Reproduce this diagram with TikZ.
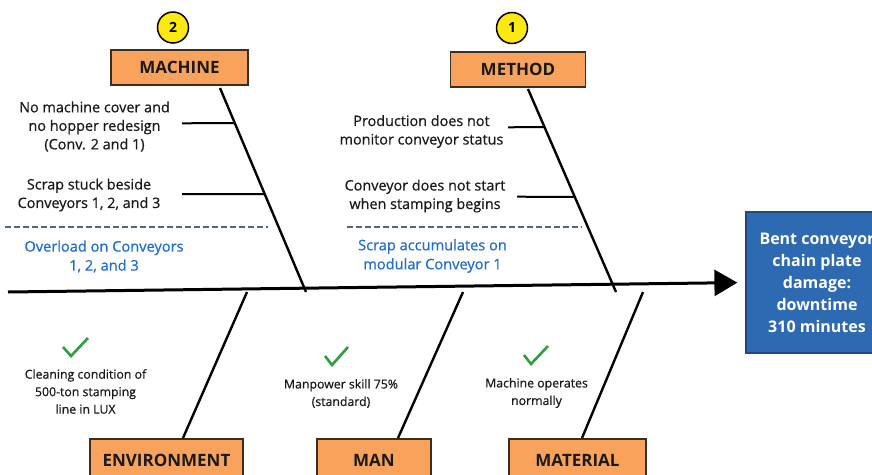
\documentclass[tikz,border=0pt]{standalone}
\usepackage{fontspec}
\setmainfont{Open Sans}
\newfontface\medface{Open Sans}[FakeBold=0.6]
\usetikzlibrary{calc,arrows.meta}
\definecolor{catfill}{HTML}{F9A25C}
\definecolor{catborder}{HTML}{3A2E24}
\definecolor{effectfill}{HTML}{2E6AB1}
\definecolor{effectborder}{HTML}{1E4A80}
\definecolor{causeblue}{HTML}{1F6DD0}
\definecolor{checkgreen}{HTML}{2E9E3E}
\definecolor{badgeyellow}{HTML}{FDE910}
\definecolor{dashgray}{HTML}{56657F}
\definecolor{inktext}{HTML}{1A1A1A}
\tikzset{
  catbox/.style={draw=catborder, fill=catfill, line width=1.5pt, inner sep=0pt,
    font=\bfseries\fontsize{17}{20}\selectfont, text=inktext},
  badge/.style={circle, draw=black, fill=badgeyellow, line width=1.5pt, minimum size=31pt,
    inner sep=0pt, font=\bfseries\fontsize{14}{16}\selectfont},
  effectbox/.style={draw=effectborder, fill=effectfill, line width=1.2pt, inner sep=0pt,
    align=center, text=white, font=\bfseries\fontsize{16}{22}\selectfont},
  causetxt/.style={align=center, text=inktext, inner sep=0pt, font=\medface\fontsize{14.4}{18.5}\selectfont},
  bluetxt/.style={align=center, text=causeblue, inner sep=0pt, font=\medface\fontsize{14.6}{19}\selectfont},
  smalltxt/.style={align=center, text=inktext, inner sep=0pt, font=\medface\fontsize{12.3}{17.5}\selectfont},
  spine/.style={line width=3pt, draw=black},
  bone/.style={line width=2.4pt, draw=black},
  twig/.style={line width=2pt, draw=black},
  dashline/.style={draw=dashgray, line width=1.2pt, dash pattern=on 6pt off 3pt},
  checkmark/.style={draw=checkgreen, line width=2.6pt},
}
\begin{document}
\begin{tikzpicture}[x=1pt,y=-1pt]
\clip (0,0) rectangle (872,474);
\fill[white] (0,0) rectangle (872,474);

% effect
\node[effectbox, minimum width=142pt, minimum height=141pt] (effect) at (817,282.5)
  {Bent conveyor\\chain plate\\damage:\\downtime\\310 minutes};

% spine
\coordinate (tail) at (8,292);
\draw[spine, -{Triangle[length=23pt,width=26pt]}, shorten >=8pt] (tail) -- (effect.west);

% category boxes
\node[catbox, minimum width=137pt, minimum height=35pt] (machine) at (179.5,67.5) {MACHINE};
\node[catbox, minimum width=135pt, minimum height=35pt] (method) at (518,69.5) {METHOD};
\node[catbox, minimum width=153pt, minimum height=42pt] (environment) at (166.5,460) {ENVIRONMENT};
\node[catbox, minimum width=114pt, minimum height=42pt] (man) at (374,460) {MAN};
\node[catbox, minimum width=137pt, minimum height=42pt] (material) at (577.5,460) {MATERIAL};

% badges
\node[badge] (b2) at (173,27.5) {2};
\node[badge] (b1) at (512,28) {1};

% bone end points
\coordinate (mtop) at (220,88);
\coordinate (mspine) at (306,292);
\coordinate (ttop) at (528,89);
\coordinate (tspine) at (616,292);
\coordinate (ebot) at (183,438);
\coordinate (espine) at (247,292);
\coordinate (nbot) at (398,438);
\coordinate (nspine) at (463,292);
\coordinate (abot) at (582,438);
\coordinate (aspine) at (643,292);

\draw[bone] (mtop) -- (mspine);
\draw[bone] (ttop) -- (tspine);
\draw[bone] (ebot) -- (espine);
\draw[bone] (nbot) -- (nspine);
\draw[bone] (abot) -- (aspine);

% twigs
\coordinate (mt1) at ($(mtop)!0.1716!(mspine)$);
\coordinate (mt2) at ($(mtop)!0.5196!(mspine)$);
\coordinate (tt1) at ($(ttop)!0.1872!(tspine)$);
\coordinate (tt2) at ($(ttop)!0.5320!(tspine)$);
\coordinate (ms1) at (182,123.3);
\coordinate (ms2) at (182,194);
\coordinate (ts1) at (508,127.3);
\coordinate (ts2) at (517,196.7);
\draw[twig] (ms1) -- (mt1);
\draw[twig] (ms2) -- (mt2);
\draw[twig] (ts1) -- (tt1);
\draw[twig] (ts2) -- (tt2);

% cause texts
\node[causetxt] (c1) at (94.5,126.5) {No machine cover and\\no hopper redesign\\(Conv. 2 and 1)};
\node[causetxt] (c2) at (89,195) {Scrap stuck beside\\Conveyors 1, 2, and 3};
\node[causetxt] (c3) at (421.5,131.5) {Production does not\\monitor conveyor status};
\node[causetxt] (c4) at (425,196) {Conveyor does not start\\when stamping begins};

% dashed separators
\coordinate (d1a) at (5,227);
\coordinate (d1b) at (268,227);
\coordinate (d2a) at (347,227);
\coordinate (d2b) at (582,227);
\draw[dashline] (d1a) -- (d1b);
\draw[dashline] (d2a) -- (d2b);

% root causes
\node[bluetxt] (r1) at (104,256.5) {Overload on Conveyors\\1, 2, and 3};
\node[bluetxt] (r2) at (432.5,256) {Scrap accumulates on\\modular Conveyor 1};

% checks
\draw[checkmark] (63,347) -- (71,356) -- (88,338);
\draw[checkmark] (325,356) -- (332,365) -- (348,347);
\draw[checkmark] (524,355) -- (531,364) -- (548,346);

% bottom texts
\node[smalltxt] (s1) at (85.5,391.5) {Cleaning condition of\\500-ton stamping\\line in LUX};
\node[smalltxt] (s2) at (341,393.5) {Manpower skill 75\%\\(standard)};
\node[smalltxt] (s3) at (536.5,393) {Machine operates\\normally};
\end{tikzpicture}
\end{document}
